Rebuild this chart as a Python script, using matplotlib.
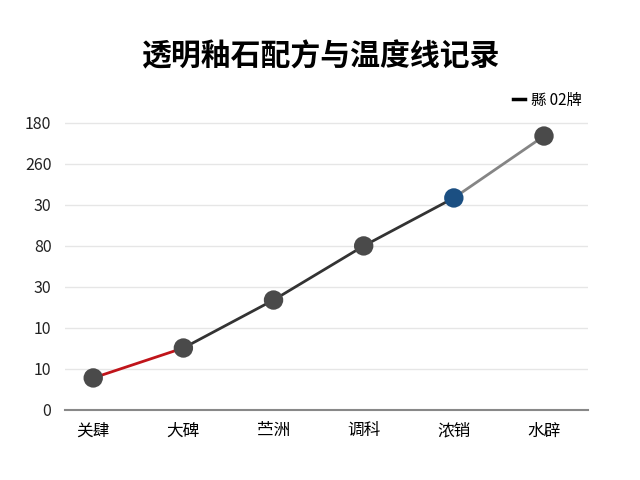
import matplotlib
matplotlib.use("Agg")
import matplotlib.pyplot as plt

plt.rcParams['font.family'] = ['Noto Sans CJK SC', 'DejaVu Sans']

title = "透明釉石配方与温度线记录"
categories = ["关肆", "大碑", "苎洲", "调科", "浓销", "水辟"]
values = [7.8, 15.1, 26.8, 40.0, 51.7, 66.8]
ytick_values = [0, 10, 20, 30, 40, 50, 60, 70]
ytick_labels = ["0", "10", "10", "30", "80", "30", "260", "180"]
legend_label = "縣 02牌"

seg_colors = ["#c0141a", "#333333", "#333333", "#333333", "#858585"]
marker_colors = ["#4a4a4a", "#4a4a4a", "#4a4a4a", "#4a4a4a", "#1b4f82", "#4a4a4a"]

fig = plt.figure(figsize=(6.4, 4.8), dpi=100)
ax = fig.add_axes([0.102, 0.146, 0.817, 0.615])

x = list(range(len(categories)))
for i in range(len(x) - 1):
    ax.plot(x[i:i+2], values[i:i+2], color=seg_colors[i], lw=2.0, zorder=2,
            solid_capstyle='round')
ax.scatter(x, values, s=195, c=marker_colors, zorder=3, edgecolors='none')

ax.plot([], [], color='black', lw=2.5, label=legend_label)
leg = ax.legend(loc='lower right', bbox_to_anchor=(1.0, 1.0), frameon=False,
                handlelength=0.8, handletextpad=0.4, fontsize=11,
                borderaxespad=0.0)

ax.set_xlim(-0.31, 5.49)
ax.set_ylim(0, 72)
ax.set_xticks(x)
ax.set_xticklabels(categories, fontsize=12)
ax.set_yticks(ytick_values)
ax.set_yticklabels(ytick_labels, fontsize=11.5, color='#222222')
ax.tick_params(axis='both', length=0)
ax.tick_params(axis='y', pad=10)
ax.tick_params(axis='x', pad=9)
ax.grid(axis='y', color='#e6e6e6', lw=1.0)
ax.set_axisbelow(True)
for s in ['top', 'right', 'left']:
    ax.spines[s].set_visible(False)
ax.spines['bottom'].set_color('#888888')
ax.spines['bottom'].set_linewidth(1.5)

fig.text(0.5, 0.882, title, ha='center', va='center', fontsize=21.5,
         fontweight='black')

fig.savefig("out.png", dpi=100)
